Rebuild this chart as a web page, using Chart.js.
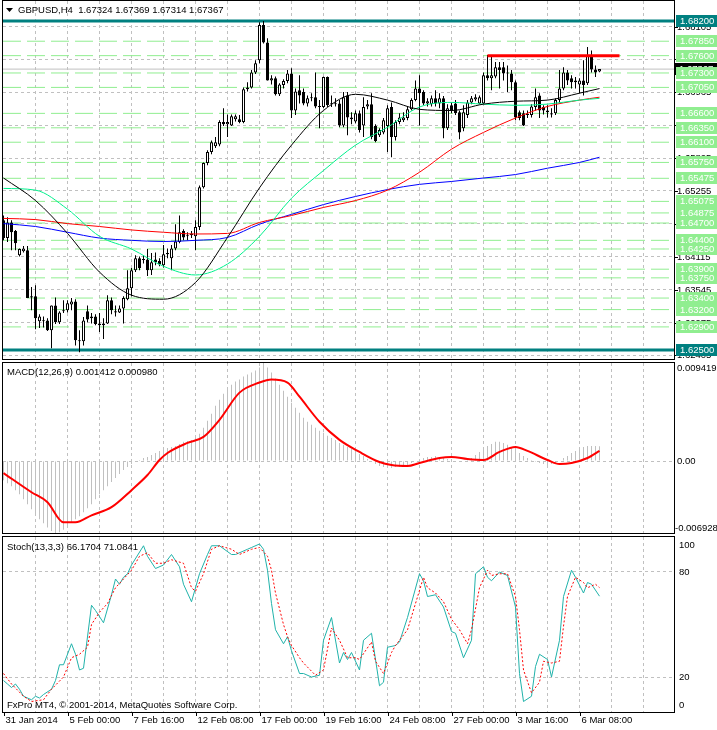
<!DOCTYPE html>
<html>
<head>
<meta charset="utf-8">
<script src="https://cdn.jsdelivr.net/npm/chart.js@4.4.1/dist/chart.umd.min.js"></script>
<style>
body { margin: 0; background: #fff; }
#wrap { position: relative; width: 717px; height: 730px; overflow: hidden; background: #fff; }
canvas { position: absolute; left: 0; }
</style>
</head>
<body>
<div id="wrap">
  <canvas id="price" width="717" height="361" style="top:0px"></canvas>
  <canvas id="macd" width="717" height="175" style="top:361px"></canvas>
  <canvas id="stoch" width="717" height="194" style="top:536px"></canvas>
</div>
<script>
// GBPUSD H4 candles, bar index 0 = 31 Jan 2014 08:00
const opens = [
  1.6475,1.6444,1.6471,1.6456,1.6414,1.6421,1.6423,1.6341,1.6343,1.6300,
  1.6301,1.6301,1.6284,1.6327,1.6298,1.6319,1.6319,1.6329,1.6334,1.6265,
  1.6265,1.6317,1.6305,1.6308,1.6296,1.6293,1.6296,1.6336,1.6317,1.6315,
  1.6322,1.6338,1.6357,1.6388,1.6409,1.6406,1.6407,1.6388,1.6407,1.6404,
  1.6397,1.6416,1.6409,1.6426,1.6437,1.6456,1.6447,1.6449,1.6447,1.6463,
  1.6532,1.6574,1.6593,1.6603,1.6606,1.6645,1.6641,1.6639,1.6650,1.6650,
  1.6645,1.6702,1.6705,1.6731,1.6752,1.6813,1.6783,1.6717,1.6721,1.6693,
  1.6709,1.6716,1.6729,1.6665,1.6700,1.6697,1.6677,1.6686,1.6688,1.6672,
  1.6671,1.6723,1.6676,1.6677,1.6677,1.6639,1.6691,1.6653,1.6646,1.6660,
  1.6639,1.6672,1.6676,1.6638,1.6622,1.6627,1.6638,1.6671,1.6619,1.6645,
  1.6648,1.6652,1.6667,1.6683,1.6703,1.6697,1.6677,1.6676,1.6686,1.6677,
  1.6686,1.6634,1.6674,1.6677,1.6662,1.6634,1.6657,1.6679,1.6684,1.6677,
  1.6677,1.6726,1.6721,1.6724,1.6740,1.6740,1.6731,1.6729,1.6714,1.6662,
  1.6660,1.6657,1.6657,1.6671,1.6691,1.6671,1.6665,1.6660,1.6660,1.6683,
  1.6703,1.6731,1.6721,1.6717,1.6710,1.6717,1.6712,1.6761,1.6736,1.67324
];
const highs = [
  1.6483,1.6480,1.6475,1.6458,1.6426,1.6430,1.6430,1.6359,1.6362,1.6312,
  1.6308,1.6305,1.6327,1.6341,1.6317,1.6336,1.6336,1.6340,1.6338,1.6284,
  1.6307,1.6327,1.6314,1.6312,1.6314,1.6305,1.6345,1.6341,1.6327,1.6327,
  1.6343,1.6388,1.6392,1.6414,1.6412,1.6414,1.6425,1.6418,1.6419,1.6409,
  1.6432,1.6426,1.6432,1.6468,1.6483,1.6459,1.6454,1.6456,1.6475,1.6535,
  1.6575,1.6596,1.6613,1.6619,1.6648,1.6669,1.6658,1.6658,1.6658,1.6657,
  1.6705,1.6714,1.6735,1.6752,1.6818,1.6820,1.6790,1.6726,1.6724,1.6712,
  1.6719,1.6735,1.6738,1.6703,1.6726,1.6703,1.6691,1.6695,1.6731,1.6683,
  1.6724,1.6724,1.6691,1.6686,1.6683,1.6697,1.6697,1.6662,1.6665,1.6665,
  1.6688,1.6683,1.6695,1.6641,1.6634,1.6652,1.6674,1.6679,1.6648,1.6660,
  1.6662,1.6672,1.6686,1.6717,1.6726,1.6700,1.6686,1.6691,1.6700,1.6695,
  1.6690,1.6676,1.6679,1.6683,1.6665,1.6674,1.6683,1.6690,1.6693,1.6691,
  1.6731,1.6761,1.6759,1.6749,1.6749,1.6749,1.6743,1.6735,1.6717,1.6665,
  1.6665,1.6665,1.6676,1.6703,1.6695,1.6674,1.6674,1.6669,1.6686,1.6735,
  1.6740,1.6735,1.6726,1.6723,1.6721,1.6752,1.6775,1.6769,1.6743,1.67369
];
const lows = [
  1.6440,1.6437,1.6423,1.6423,1.6412,1.6419,1.6340,1.6319,1.6286,1.6288,
  1.6289,1.6283,1.6253,1.6295,1.6295,1.6314,1.6315,1.6319,1.6258,1.6246,
  1.6258,1.6298,1.6296,1.6293,1.6281,1.6269,1.6295,1.6312,1.6308,1.6314,
  1.6296,1.6336,1.6343,1.6385,1.6388,1.6400,1.6378,1.6380,1.6397,1.6395,
  1.6393,1.6409,1.6388,1.6423,1.6435,1.6440,1.6440,1.6444,1.6423,1.6458,
  1.6530,1.6570,1.6589,1.6600,1.6603,1.6638,1.6619,1.6638,1.6646,1.6643,
  1.6643,1.6698,1.6703,1.6728,1.6747,1.6781,1.6717,1.6710,1.6691,1.6690,
  1.6703,1.6712,1.6652,1.6657,1.6677,1.6674,1.6672,1.6681,1.6669,1.6634,
  1.6669,1.6671,1.6671,1.6672,1.6636,1.6636,1.6622,1.6641,1.6643,1.6627,
  1.6619,1.6667,1.6615,1.6610,1.6619,1.6624,1.6593,1.6584,1.6613,1.6641,
  1.6645,1.6648,1.6665,1.6681,1.6639,1.6674,1.6672,1.6672,1.6672,1.6669,
  1.6617,1.6631,1.6660,1.6657,1.6615,1.6629,1.6652,1.6676,1.6681,1.6676,
  1.6676,1.6717,1.6700,1.6721,1.6703,1.6717,1.6697,1.6700,1.6648,1.6648,
  1.6638,1.6652,1.6653,1.6665,1.6652,1.6658,1.6653,1.6653,1.6657,1.6679,
  1.6700,1.6709,1.6703,1.6703,1.6695,1.6691,1.6709,1.6731,1.6723,1.67314
];
const closes = [
  1.6444,1.6471,1.6454,1.6435,1.6425,1.6426,1.6340,1.6343,1.6305,1.6308,
  1.6300,1.6284,1.6327,1.6298,1.6315,1.6317,1.6331,1.6334,1.6267,1.6267,
  1.6301,1.6303,1.6308,1.6295,1.6293,1.6296,1.6336,1.6319,1.6315,1.6322,
  1.6340,1.6357,1.6388,1.6409,1.6392,1.6407,1.6388,1.6402,1.6402,1.6398,
  1.6416,1.6418,1.6426,1.6438,1.6454,1.6445,1.6449,1.6452,1.6463,1.6532,
  1.6574,1.6593,1.6610,1.6610,1.6645,1.6641,1.6645,1.6655,1.6655,1.6645,
  1.6702,1.6705,1.6731,1.6747,1.6813,1.6783,1.6717,1.6721,1.6693,1.6710,
  1.6716,1.6729,1.6665,1.6698,1.6691,1.6677,1.6686,1.6688,1.6672,1.6671,
  1.6723,1.6674,1.6677,1.6676,1.6639,1.6688,1.6653,1.6650,1.6660,1.6631,
  1.6671,1.6676,1.6619,1.6612,1.6631,1.6648,1.6669,1.6619,1.6645,1.6653,
  1.6653,1.6667,1.6683,1.6703,1.6695,1.6677,1.6681,1.6686,1.6677,1.6686,
  1.6634,1.6669,1.6664,1.6660,1.6627,1.6662,1.6679,1.6686,1.6688,1.6688,
  1.6726,1.6721,1.6726,1.6740,1.6735,1.6729,1.6729,1.6714,1.6653,1.6652,
  1.6639,1.6658,1.6672,1.6688,1.6665,1.6665,1.6662,1.6658,1.6683,1.6703,
  1.6731,1.6717,1.6714,1.6714,1.6717,1.6709,1.6761,1.6736,1.6731,1.67367
];

// moving averages, read at these bar indices
const maIdx   = [0,8,16,24,32,40,48,56,64,72,80,88,96,104,112,120,128,136,144,149];
const maBlack = [1.6548,1.6509,1.6452,1.6385,1.6345,1.6338,1.6367,1.6445,1.6531,1.6605,1.6665,1.6693,1.6683,1.6667,1.6665,1.6676,1.6681,1.6683,1.6695,1.6703];
const maGreen = [1.6530,1.6527,1.6494,1.6447,1.6425,1.6395,1.6380,1.6399,1.6447,1.6513,1.6561,1.6605,1.6636,1.6671,1.6679,1.6676,1.6674,1.6676,1.6683,1.6686];
const maRed   = [1.6478,1.6476,1.6469,1.6464,1.6458,1.6454,1.6451,1.6452,1.6471,1.6483,1.6497,1.6509,1.6527,1.6558,1.6598,1.6627,1.6652,1.6672,1.6683,1.6688];
const maBlue  = [1.6469,1.6464,1.6454,1.6444,1.6440,1.6438,1.6440,1.6445,1.6468,1.6485,1.6502,1.6516,1.6528,1.6537,1.6542,1.6548,1.6554,1.6565,1.6575,1.6584];

// horizontal levels
const greenLevels = [1.6785,1.676,1.673,1.6705,1.666,1.6635,1.661,1.6575,1.65475,1.65075,1.64875,1.647,1.644,1.6425,1.639,1.6375,1.634,1.632,1.629];
const tealLevels = [1.682, 1.625];
const resistIdx = [121, 154];
const resistLevel = 1.676;
const priceGrid = [1.68105,1.67535,1.66965,1.66395,1.65825,1.65255,1.64685,1.64115,1.63545,1.62975,1.62405];
const priceMin = 1.62344, priceMax = 1.68547;

// MACD(12,26,9)
const macdMain = [
  -0.00184,-0.00213,-0.00242,-0.00280,-0.00319,-0.00367,-0.00415,-0.00464,-0.00512,-0.00560,
  -0.00599,-0.00638,-0.00672,-0.00693,-0.00685,-0.00660,-0.00618,-0.00589,-0.00560,-0.00531,
  -0.00493,-0.00454,-0.00415,-0.00367,-0.00319,-0.00280,-0.00242,-0.00203,-0.00164,-0.00126,
  -0.00087,-0.00058,-0.00029,-0.00010,0.00010,0.00029,0.00039,0.00058,0.00077,0.00097,
  0.00106,0.00126,0.00135,0.00145,0.00164,0.00184,0.00193,0.00203,0.00222,0.00261,
  0.00319,0.00386,0.00454,0.00531,0.00589,0.00647,0.00696,0.00734,0.00763,0.00783,
  0.00812,0.00831,0.00850,0.00870,0.00899,0.00942,0.00899,0.00850,0.00792,0.00734,
  0.00676,0.00618,0.00560,0.00512,0.00464,0.00415,0.00377,0.00348,0.00319,0.00290,
  0.00271,0.00242,0.00222,0.00203,0.00174,0.00155,0.00135,0.00116,0.00097,0.00068,
  0.00048,0.00019,-0.00010,-0.00029,-0.00048,-0.00058,-0.00058,-0.00068,-0.00058,-0.00058,
  -0.00048,-0.00039,-0.00019,0.00000,0.00019,0.00029,0.00039,0.00039,0.00048,0.00039,
  0.00029,0.00019,0.00010,0.00000,-0.00010,0.00000,0.00010,0.00029,0.00058,0.00087,
  0.00116,0.00145,0.00164,0.00184,0.00184,0.00174,0.00155,0.00135,0.00106,0.00077,
  0.00048,0.00029,0.00010,-0.00010,-0.00019,-0.00029,-0.00039,-0.00029,-0.00019,0.00000,
  0.00029,0.00048,0.00077,0.00097,0.00116,0.00135,0.00145,0.00145,0.00145,0.001412
];
const macdSigIdx = [0,7,11,15,18,22,27,32,36,39,41,46,50,54,59,64,67,71,74,79,84,89,94,97,101,104,109,112,116,120,124,128,131,136,139,142,146,149];
const macdSig = [
  -0.00116,-0.00300,-0.00396,-0.00589,-0.00589,-0.00522,-0.00444,-0.00280,-0.00135,0.00010,
  0.00077,0.00174,0.00232,0.00396,0.00657,0.00754,0.00783,0.00754,0.00618,0.00377,
  0.00203,0.00087,-0.00010,-0.00039,-0.00048,-0.00019,0.00029,0.00039,0.00019,0.00010,
  0.00087,0.00135,0.00097,0.00010,-0.00029,-0.00019,0.00029,0.00098
];
const macdMin = -0.00692, macdMax = 0.009419;
const macdLabels = [0.009419, 0, -0.006928];

// Stoch(13,3,3)
const stochIdx = [
  0,1,2,3,4,5,7,8,9,10, 12,13,14,15,17,18,19,20,22,23,
  25,27,28,29,30,31,32,35,36,38, 40,42,44,45,47,49,51,52,54,57,
  58,61,62,64,65,66,67,68,70,71, 72,74,75,77,79,80,82,84,85,86,
  87,89,90,92,94,95,96,98,99,101, 104,105,106,108,110,112,113,115,117,118,
  120,121,122,124,126,128,129,130,132,133, 134,136,137,139,140,142,143,145,146,147,
  149
];
const stochMain = [
  18,16,14,16,13,9,7,9,8,10, 13,18,27,27,39,33,24,25,61,58,
  51,67,76,73,77,79,84,95,89,82, 84,90,83,73,63,79,90,95,95,90,
  90,93,94,96,93,81,62,47,39,43, 35,22,22,20,21,41,54,28,34,30,
  34,24,41,45,15,17,37,38,40,54, 79,75,66,67,60,46,45,31,41,79,
  83,77,75,80,78,60,22,6,9,26, 33,30,20,41,66,81,77,68,74,73,
  66.1704
];
const stochSigIdx = [
  0,2,5,7,10,12,15,17,19,21, 22,24,26,28,30,32,34,36,38,40,
  42,45,47,48,50,52,54,57,59,62, 64,66,67,68,70,71,72,74,75,78,
  80,82,84,86,88,89,92,93,95,97, 98,101,103,105,106,108,110,112,114,116,
  117,119,121,122,124,126,128,129,130,132, 134,135,137,139,140,141,143,145,146,148,
  149
];
const stochSig = [
  22,16,9,6,7,13,20,31,33,37, 50,57,62,71,76,81,89,91,85,85,
  87,85,71,69,79,93,95,93,90,93, 94,89,81,68,50,43,38,31,28,21,
  24,48,41,31,31,30,40,29,22,34, 38,47,62,77,71,68,63,53,47,39,
  47,71,81,78,79,79,66,47,24,11, 17,29,28,29,49,66,77,74,71,73,
  71.0841
];
const stochLevels = [80, 20];

// time axis
const vGridIdx = [8,16,24,32,40,48,56,64,72,80,88,96,104,112,120,128,136,144,152,160];
const dateIdx = [0,16,32,48,64,80,96,112,128,144];
const dateLabels = ['31 Jan 2014','5 Feb 00:00','7 Feb 16:00','12 Feb 08:00','17 Feb 00:00','19 Feb 16:00','24 Feb 08:00','27 Feb 00:00','3 Mar 16:00','6 Mar 08:00'];

const X_MIN = -0.125, X_MAX = 167.625;
const FONT = '9.5px "Liberation Sans", Arial, sans-serif';
const GRID = '#c0c0c0';

const pts = (idx, vals) => idx.map((x, k) => ({x: x, y: vals[k]}));
const flat = (a, b, y) => [{x: a, y: y}, {x: b, y: y}];

function xScale() {
  return {
    type: 'linear', min: X_MIN, max: X_MAX, offset: false,
    ticks: {display: false},
    grid: {color: GRID, lineWidth: 1, drawTicks: false, offset: false},
    border: {display: false, dash: [3, 3]},
    afterBuildTicks: s => { s.ticks = vGridIdx.map(v => ({value: v})); },
    afterFit: s => { s.height = 0; }
  };
}

function yScale(min, max, gridVals) {
  return {
    type: 'linear', position: 'right', min: min, max: max,
    ticks: {display: false},
    grid: {color: GRID, lineWidth: 1, drawTicks: false},
    border: {display: false, dash: [3, 3]},
    afterBuildTicks: s => { s.ticks = gridVals.map(v => ({value: v})); },
    afterFit: s => { s.width = 43; }
  };
}

function lineDs(data, color, width, extra) {
  return Object.assign({
    type: 'line', data: data, borderColor: color, borderWidth: width,
    pointRadius: 0, fill: false, tension: 0
  }, extra || {});
}

function baseOptions(pad, yOpts) {
  return {
    responsive: false, animation: false, devicePixelRatio: 1, events: [],
    layout: {padding: pad},
    plugins: {legend: {display: false}, tooltip: {enabled: false}},
    scales: {x: xScale(), y: yOpts}
  };
}

function frame(ctx, a) {
  ctx.strokeStyle = '#000';
  ctx.lineWidth = 1;
  ctx.setLineDash([]);
  ctx.strokeRect(a.left - 0.5, a.top - 0.5, a.right - a.left + 1, a.bottom - a.top + 1);
}

function box(ctx, x, yc, color, text) {
  ctx.fillStyle = color;
  ctx.fillRect(x, Math.round(yc) - 6, 717 - x, 12);
  ctx.fillStyle = '#fff';
  ctx.fillText(text, x + 4, Math.round(yc));
}

const pricePlugin = {
  id: 'priceDecor',
  afterDraw(chart) {
    const ctx = chart.ctx, a = chart.chartArea, y = chart.scales.y;
    ctx.save();
    frame(ctx, a);
    ctx.font = FONT;
    ctx.textBaseline = 'middle';
    ctx.textAlign = 'left';
    priceGrid.forEach(v => {
      const py = Math.round(y.getPixelForValue(v)) + 0.5;
      ctx.strokeStyle = '#000';
      ctx.beginPath(); ctx.moveTo(a.right, py); ctx.lineTo(a.right + 4, py); ctx.stroke();
      ctx.fillStyle = '#000';
      ctx.fillText(v.toFixed(5), a.right + 3, py);
    });
    const bid = closes[closes.length - 1];
    box(ctx, a.right + 1, y.getPixelForValue(bid), '#000', bid.toFixed(5));
    greenLevels.forEach(v => box(ctx, a.right + 2, y.getPixelForValue(v), '#90ee90', v.toFixed(5)));
    tealLevels.forEach(v => box(ctx, a.right + 2, y.getPixelForValue(v), '#008080', v.toFixed(5)));
    // title
    const n = opens.length - 1;
    ctx.fillStyle = '#000';
    ctx.beginPath(); ctx.moveTo(6, 8); ctx.lineTo(13, 8); ctx.lineTo(9.5, 12); ctx.closePath(); ctx.fill();
    ctx.fillText('GBPUSD,H4  ' + [opens[n], highs[n], lows[n], closes[n]].map(v => v.toFixed(5)).join(' '), 18, 10);
    ctx.restore();
  }
};

const macdPlugin = {
  id: 'macdDecor',
  afterDraw(chart) {
    const ctx = chart.ctx, a = chart.chartArea, y = chart.scales.y;
    ctx.save();
    frame(ctx, a);
    ctx.font = FONT;
    ctx.textBaseline = 'middle';
    ctx.fillStyle = '#000';
    ctx.fillText('MACD(12,26,9) ' + macdMain[macdMain.length - 1].toFixed(6) + ' ' + macdSig[macdSig.length - 1].toFixed(6), 7, 11);
    ctx.fillText(macdLabels[0].toFixed(6), a.right + 3, a.top + 5);
    ctx.fillText('0.00', a.right + 3, y.getPixelForValue(macdLabels[1]));
    ctx.fillText(macdLabels[2].toFixed(6), a.right + 1, a.bottom - 5);
    ctx.restore();
  }
};

const stochPlugin = {
  id: 'stochDecor',
  afterDraw(chart) {
    const ctx = chart.ctx, a = chart.chartArea, x = chart.scales.x, y = chart.scales.y;
    ctx.save();
    frame(ctx, a);
    ctx.font = FONT;
    ctx.textBaseline = 'middle';
    ctx.fillStyle = '#000';
    ctx.fillText('Stoch(13,3,3) ' + stochMain[stochMain.length - 1].toFixed(4) + ' ' + stochSig[stochSig.length - 1].toFixed(4), 7, 11);
    ctx.fillText('FxPro MT4, \u00a9 2001-2014, MetaQuotes Software Corp.', 7, a.bottom - 7);
    ctx.fillText('100', a.right + 5, a.top + 8);
    stochLevels.forEach(v => ctx.fillText(String(v), a.right + 5, y.getPixelForValue(v)));
    ctx.fillText('0', a.right + 5, a.bottom - 7);
    ctx.strokeStyle = '#000';
    dateIdx.forEach((i, k) => {
      const px = Math.round(x.getPixelForValue(i)) + 0.5;
      ctx.beginPath(); ctx.moveTo(px, a.bottom); ctx.lineTo(px, a.bottom + 4); ctx.stroke();
      ctx.fillText(dateLabels[k], px + 1, a.bottom + 8);
    });
    ctx.restore();
  }
};

// price panel
const bodies = opens.map((o, i) => ({x: i, y: [o, closes[i]]}));
const wicks = lows.map((l, i) => ({x: i, y: [l, highs[i]]}));

const priceSets = [
  lineDs(pts(maIdx, maBlack), '#000000', 1, {cubicInterpolationMode: 'monotone', order: 0}),
  lineDs(pts(maIdx, maGreen), '#00f08c', 1, {cubicInterpolationMode: 'monotone', order: 0}),
  lineDs(pts(maIdx, maRed), '#ff0000', 1, {cubicInterpolationMode: 'monotone', order: 0}),
  lineDs(pts(maIdx, maBlue), '#0000ff', 1, {cubicInterpolationMode: 'monotone', order: 0}),
  lineDs(flat(resistIdx[0], resistIdx[1], resistLevel), '#ff0000', 3, {order: 0}),
  {
    type: 'bar', data: bodies, barThickness: 3, grouped: false, order: 1,
    backgroundColor: c => closes[c.dataIndex] >= opens[c.dataIndex] ? '#ffffff' : '#000000',
    borderColor: '#000000', borderWidth: 1, borderSkipped: false, inflateAmount: 0, minBarLength: 1
  },
  {
    type: 'bar', data: wicks, barThickness: 1, grouped: false, order: 2,
    backgroundColor: '#000000', borderWidth: 0, inflateAmount: 0
  }
];
tealLevels.forEach(v => priceSets.push(lineDs(flat(X_MIN, X_MAX, v), '#008080', 3, {order: 4})));
greenLevels.forEach(v => priceSets.push(lineDs(flat(X_MIN, X_MAX, v), '#90ee90', 1, {borderDash: [18, 6], order: 5})));
priceSets.push(lineDs(flat(X_MIN, X_MAX, closes[closes.length - 1]), '#c0c0c0', 1, {order: 6}));

new Chart(document.getElementById('price'), {
  type: 'bar',
  data: {datasets: priceSets},
  options: baseOptions({left: 3, top: 1, right: 0, bottom: 2}, yScale(priceMin, priceMax, priceGrid)),
  plugins: [pricePlugin]
});

// MACD panel
new Chart(document.getElementById('macd'), {
  type: 'bar',
  data: {
    datasets: [
      lineDs(pts(macdSigIdx, macdSig), '#ff0000', 2, {cubicInterpolationMode: 'monotone', order: 0}),
      {
        type: 'bar', data: macdMain.map((v, i) => ({x: i, y: v})), barThickness: 1, grouped: false,
        backgroundColor: '#c0c0c0', borderWidth: 0, inflateAmount: 0, order: 1
      }
    ]
  },
  options: baseOptions({left: 3, top: 2, right: 0, bottom: 3}, yScale(macdMin, macdMax, [0])),
  plugins: [macdPlugin]
});

// Stochastic panel
new Chart(document.getElementById('stoch'), {
  type: 'line',
  data: {
    datasets: [
      lineDs(pts(stochIdx, stochMain), '#20b2aa', 1, {order: 1}),
      lineDs(pts(stochSigIdx, stochSig), '#ff0000', 1, {borderDash: [2, 2], order: 0})
    ]
  },
  options: baseOptions({left: 3, top: 1, right: 0, bottom: 18}, yScale(0, 100, stochLevels)),
  plugins: [stochPlugin]
});
</script>
</body>
</html>
